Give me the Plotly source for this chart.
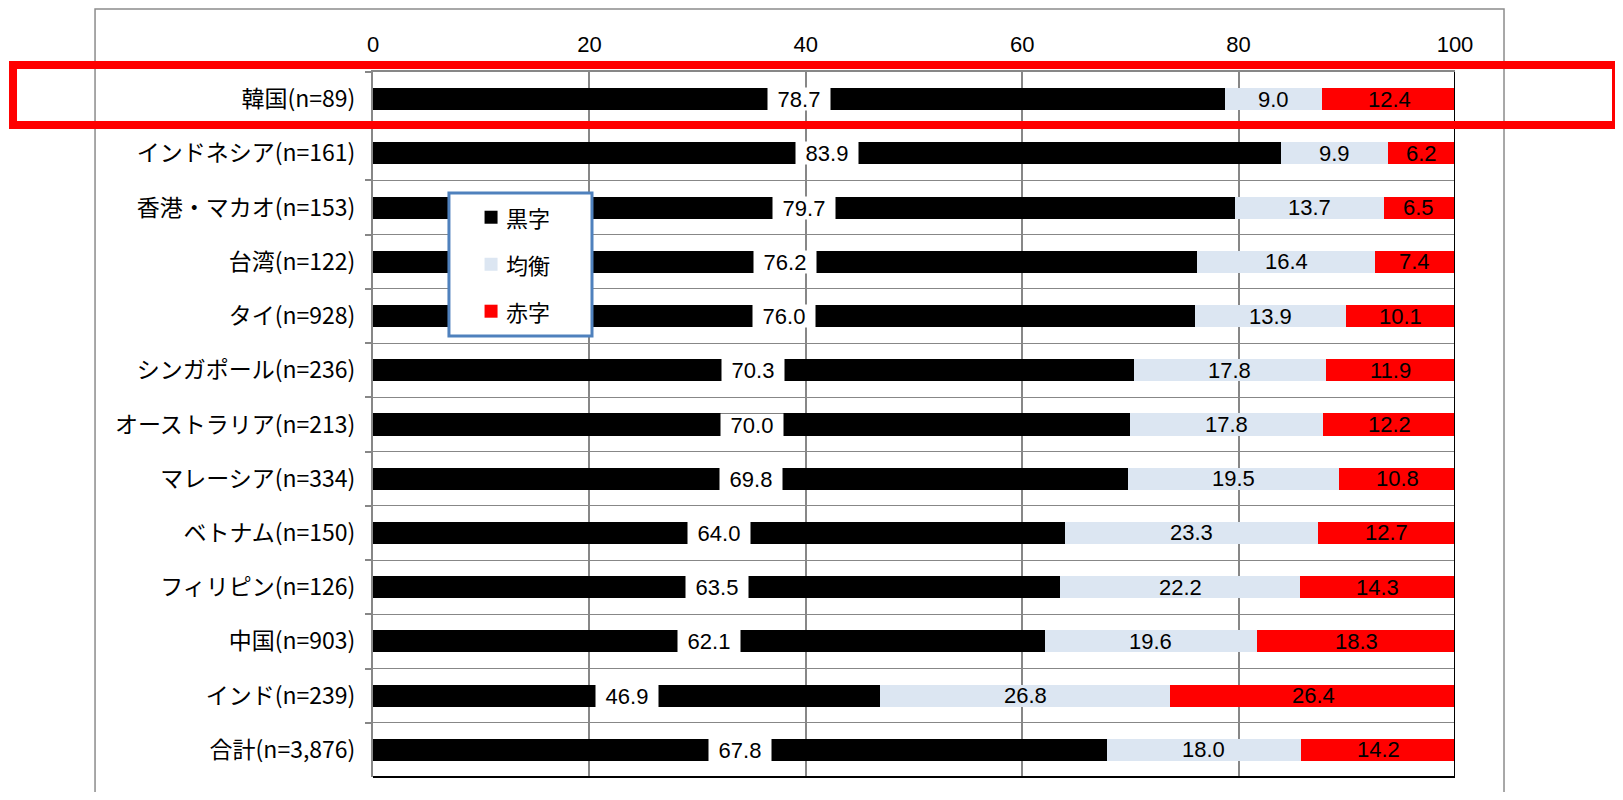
import plotly.graph_objects as go

categories = [
    "韓国(n=89)", "インドネシア(n=161)", "香港・マカオ(n=153)", "台湾(n=122)",
    "タイ(n=928)", "シンガポール(n=236)", "オーストラリア(n=213)", "マレーシア(n=334)",
    "ベトナム(n=150)", "フィリピン(n=126)", "中国(n=903)", "インド(n=239)", "合計(n=3,876)",
]
kuroji = [78.7, 83.9, 79.7, 76.2, 76.0, 70.3, 70.0, 69.8, 64.0, 63.5, 62.1, 46.9, 67.8]
kinko = [9.0, 9.9, 13.7, 16.4, 13.9, 17.8, 17.8, 19.5, 23.3, 22.2, 19.6, 26.8, 18.0]
akaji = [12.4, 6.2, 6.5, 7.4, 10.1, 11.9, 12.2, 10.8, 12.7, 14.3, 18.3, 26.4, 14.2]
series_names = ["黒字", "均衡", "赤字"]
x_ticks = [0, 20, 40, 60, 80, 100]

colors = ["#000000", "#dce6f2", "#ff0000"]
GRID = "#878787"
NUM_FONT = dict(family="Arial, Liberation Sans", size=22, color="#000000")
JP_FONT = "Noto Sans CJK JP"

fig = go.Figure()
for i, (name, vals) in enumerate(zip(series_names, [kuroji, kinko, akaji])):
    fig.add_trace(go.Bar(
        y=categories, x=vals, name=name, orientation="h",
        marker=dict(color=colors[i], line=dict(width=0)),
        showlegend=False, hoverinfo="x+y+name",
    ))

annotations = []
for c, k, b, a in zip(categories, kuroji, kinko, akaji):
    annotations.append(dict(x=k / 2, y=c, xref="x", yref="y", text=f"{k:.1f}",
                            showarrow=False, font=NUM_FONT, bgcolor="#ffffff",
                            width=62, height=22, borderpad=0, align="center"))
    annotations.append(dict(x=k + b / 2, y=c, xref="x", yref="y", text=f"{b:.1f}",
                            showarrow=False, font=NUM_FONT))
    annotations.append(dict(x=k + b + a / 2, y=c, xref="x", yref="y", text=f"{a:.1f}",
                            showarrow=False, font=NUM_FONT))

shapes = [
    # outer frame
    dict(type="rect", xref="paper", yref="paper", x0=-0.2569, x1=1.0453, y0=-0.06, y1=1.0894,
         line=dict(color="#8c8c8c", width=1.5), fillcolor="rgba(0,0,0,0)", layer="below"),
    # right & bottom black lines
    dict(type="line", xref="x", yref="paper", x0=100, x1=100, y0=0, y1=1,
         line=dict(color="#000000", width=2)),
    dict(type="line", xref="x", yref="paper", x0=0, x1=100, y0=0, y1=0,
         line=dict(color="#000000", width=2)),
    # red highlight rectangle
    dict(type="rect", xref="paper", yref="paper", x0=-0.3327, x1=1.1488, y0=0.9248, y1=1.0099,
         line=dict(color="#ff0000", width=8), fillcolor="rgba(0,0,0,0)"),
    # legend box
    dict(type="rect", xref="paper", yref="paper", x0=0.0702, x1=0.2024, y0=0.6255, y1=0.8284,
         line=dict(color="#4f81bd", width=3), fillcolor="#ffffff"),
]

# legend entries (swatch + label)
legend_y = [0.7940, 0.7273, 0.6607]
for name, col, ly in zip(series_names, colors, legend_y):
    shapes.append(dict(type="rect", xref="paper", yref="paper",
                       xsizemode="pixel", ysizemode="pixel",
                       xanchor=0.1091, yanchor=ly, x0=-6.5, x1=6.5, y0=-6.5, y1=6.5,
                       line=dict(width=0), fillcolor=col))
    annotations.append(dict(x=0.1215, y=ly, xref="paper", yref="paper", text=name,
                            xanchor="left", yanchor="middle", showarrow=False,
                            font=dict(family=JP_FONT, size=22, color="#000000")))

fig.update_layout(
    width=1615, height=784,
    margin=dict(l=365, r=168, t=64, b=15),
    paper_bgcolor="#ffffff", plot_bgcolor="#ffffff",
    barmode="stack", bargap=0.594,
    font=dict(family=JP_FONT, color="#000000"),
    xaxis=dict(side="top", range=[0, 100], tickvals=x_ticks, ticktext=[str(t) for t in x_ticks],
               showgrid=True, gridcolor=GRID, gridwidth=1.5, zeroline=False,
               showline=True, linecolor=GRID, linewidth=1.5, ticks="",
               tickfont=dict(family="Arial, Liberation Sans", size=22, color="#000000"),
               ticklabelstandoff=9, fixedrange=True),
    yaxis=dict(type="category", autorange="reversed", tickson="boundaries",
               showgrid=True, gridcolor=GRID, gridwidth=1, zeroline=False,
               showline=True, linecolor=GRID, linewidth=2,
               ticks="outside", ticklen=6, tickcolor=GRID, tickwidth=1.5,
               tickfont=dict(family=JP_FONT, size=23, color="#000000"),
               ticklabelstandoff=11, fixedrange=True),
    annotations=annotations, shapes=shapes,
    showlegend=False,
)

fig.write_html("out.html")
